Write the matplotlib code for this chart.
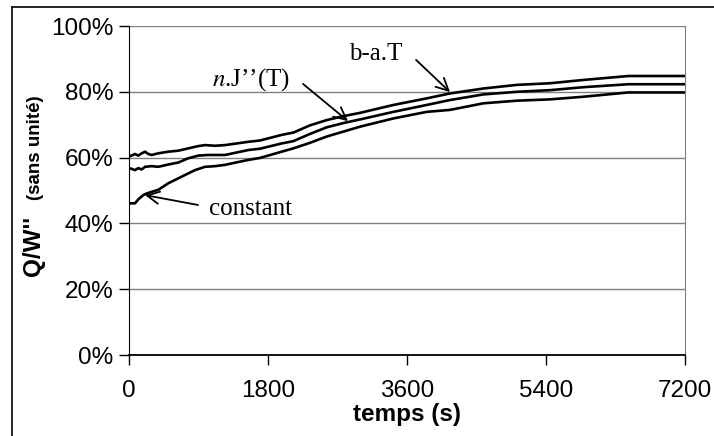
import matplotlib.pyplot as plt
from matplotlib.lines import Line2D

# temps (s) et Q/W'' (%)
t_bat = [20, 78, 120, 164, 207, 250, 294, 379, 509, 638, 768, 897, 984, 1114, 1243, 1545, 1696,
         1977, 2128, 2344, 2560, 2776, 2992, 3423, 3855, 4157, 4589, 5021, 5452, 5884, 6466, 7200]
q_bat = [60.5, 61.1, 60.6, 61.3, 61.8, 61.1, 60.8, 61.3, 61.8, 62.1, 62.8, 63.5, 63.8, 63.6, 63.8, 64.8, 65.2,
         66.9, 67.6, 69.8, 71.4, 72.6, 73.6, 76.0, 78.0, 79.5, 81.0, 82.1, 82.6, 83.6, 84.8, 84.8]

t_nj = [20, 78, 120, 164, 207, 294, 379, 509, 638, 768, 897, 1027, 1243, 1545, 1696, 1977, 2128,
        2344, 2560, 2776, 2992, 3423, 3855, 4157, 4589, 5021, 5452, 5884, 6466, 7200]
q_nj = [56.7, 56.2, 56.8, 56.4, 57.2, 57.4, 57.2, 57.9, 58.5, 59.8, 60.6, 60.8, 60.8, 62.3, 62.7, 64.3, 65.0,
        67.2, 69.2, 70.5, 71.6, 73.9, 76.0, 77.5, 79.2, 80.0, 80.5, 81.4, 82.3, 82.3]

t_cst = [20, 78, 120, 185, 229, 294, 379, 509, 638, 768, 855, 984, 1114, 1243, 1545, 1696, 1977, 2128,
         2344, 2560, 2776, 2992, 3423, 3855, 4157, 4589, 5021, 5452, 5884, 6466, 7200]
q_cst = [46.1, 46.1, 47.3, 48.6, 49.1, 49.6, 50.2, 52.2, 53.7, 55.2, 56.2, 57.2, 57.4, 57.8, 59.3, 59.9, 61.8, 62.8,
         64.5, 66.4, 67.9, 69.4, 71.9, 73.9, 74.5, 76.5, 77.3, 77.7, 78.5, 79.8, 79.8]

xticks = [0, 1800, 3600, 5400, 7200]
yticks = [0, 20, 40, 60, 80, 100]

plt.rcParams['font.family'] = ['Liberation Sans', 'DejaVu Sans']
plt.rcParams['mathtext.fontset'] = 'stix'

fig = plt.figure(figsize=(7.14, 4.36), dpi=100)
ax = fig.add_axes([129/714, 1 - 355/436, 556/714, 329/436])

for y in yticks[1:]:
    ax.axhline(y, color='#808080', lw=1.0, zorder=1)

for t, q in [(t_bat, q_bat), (t_nj, q_nj), (t_cst, q_cst)]:
    ax.plot(t, q, color='black', lw=1.9, zorder=3, solid_joinstyle='round')

ax.set_xlim(0, 7200)
ax.set_ylim(0, 100)
ax.set_xticks(xticks)
ax.set_yticks(yticks)
ax.set_yticklabels([f'{y}%' for y in yticks])
ax.tick_params(axis='both', direction='out', length=7, width=1, labelsize=17.5, pad=4)
ax.tick_params(axis='x', pad=11)
ax.spines['left'].set_color('black')
ax.spines['bottom'].set_color('black')
ax.spines['bottom'].set_linewidth(1.3)
ax.spines['right'].set_color('#808080')
ax.spines['top'].set_visible(False)

ax.set_xlabel('temps (s)', fontsize=17.5, fontweight='bold', labelpad=1)

# libellé de l'axe y en deux tailles
fig.text(33/714, 1 - 246/436, "Q/W''", rotation=90, fontsize=17.5, fontweight='bold',
         ha='center', va='center')
fig.text(35/714, 1 - 148/436, '(sans unité)', rotation=90, fontsize=13.5, fontweight='bold',
         ha='center', va='center')

# étiquettes des courbes et flèches
serif = ['Liberation Serif', 'DejaVu Serif']
arrow = dict(arrowstyle='->', color='black', lw=1.3, mutation_scale=22, shrinkA=0, shrinkB=0)

ax.text(3199, 91.5, 'b-a.T', fontsize=18, family=serif, ha='center', va='center')
ax.annotate('', xy=(4157, 79.9), xytext=(3717, 89.7), arrowprops=arrow)

ax.text(1580, 83.6, '$\\mathit{n}$.J’’(T)', fontsize=18, family=serif, ha='center', va='center')
ax.annotate('', xy=(2836, 71.1), xytext=(2253, 82.4), arrowprops=arrow)

ax.text(1567, 44.4, 'constant', fontsize=18, family=serif, ha='center', va='center')
ax.annotate('', xy=(207, 48.6), xytext=(894, 45.6), arrowprops=arrow)

# cadre extérieur
fig.add_artist(Line2D([12/714, 1], [1 - 7/436, 1 - 7/436], color='black', lw=1.2))
fig.add_artist(Line2D([12/714, 12/714], [0, 1 - 7/436], color='black', lw=1.2))

fig.savefig('out.png', dpi=100)
